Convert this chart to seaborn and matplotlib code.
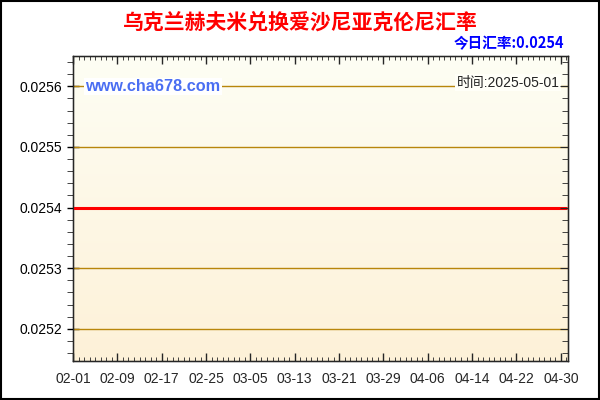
import numpy as np
import pandas as pd
import seaborn as sns
import matplotlib.pyplot as plt
import matplotlib.dates as mdates
from matplotlib.patches import Rectangle
from matplotlib.colors import LinearSegmentedColormap
from matplotlib.ticker import MultipleLocator

# 数据：2025-02-01 ~ 2025-05-01 每日汇率（图中为一条水平线）
dates = pd.date_range('2025-02-01', '2025-05-01', freq='D')
rate_values = [0.0254] * len(dates)
y_ticks = [0.0252, 0.0253, 0.0254, 0.0255, 0.0256]
title_text = '乌克兰赫夫米兑换爱沙尼亚克伦尼汇率'
today_text = '今日汇率:0.0254'
time_text = '时间:2025-05-01'
site_text = 'www.cha678.com'

sns.set_style('ticks')
plt.rcParams['font.family'] = ['Liberation Sans', 'Noto Sans CJK SC', 'DejaVu Sans']

df = pd.DataFrame({'date': dates, 'rate': rate_values})

fig = plt.figure(figsize=(6, 4), dpi=100)
ax = fig.add_axes([0.1217, 0.0975, 0.825, 0.7625])

x0 = mdates.date2num(pd.Timestamp('2025-02-01'))
x1 = x0 + 89.3
y0, y1 = 0.025147, 0.025650

# 背景渐变（上白下黄）
grad = np.linspace(0, 1, 256).reshape(-1, 1)
cmap = LinearSegmentedColormap.from_list('bg', ['#fdf1d8', '#fefef4'])
ax.imshow(grad, aspect='auto', cmap=cmap, extent=[x0, x1, y0, y1],
          origin='lower', zorder=0)

for v in y_ticks:
    ax.axhline(v, color='#b8860b', lw=1, zorder=1)

sns.lineplot(data=df, x='date', y='rate', ax=ax, color='#ff0000', lw=2.2, zorder=3)

ax.set_xlim(x0, x1)
ax.set_ylim(y0, y1)
ax.set_xlabel('')
ax.set_ylabel('')

ax.set_yticks(y_ticks)
ax.set_yticklabels([f'{v:.4f}' for v in y_ticks])
ax.yaxis.set_minor_locator(MultipleLocator(0.00002))
xt = pd.date_range('2025-02-01', '2025-04-30', freq='8D')
ax.set_xticks(mdates.date2num(xt))
ax.set_xticklabels([d.strftime('%m-%d') for d in xt])
ax.xaxis.set_minor_locator(MultipleLocator(1))

ax.tick_params(axis='y', which='major', direction='inout', length=8, labelsize=10,
               right=False, width=1, colors='black')
ax.tick_params(axis='y', which='minor', direction='out', length=4, right=False)
ax.tick_params(axis='x', which='major', direction='in', length=6, labelsize=10,
               top=True, width=1, pad=8)
ax.tick_params(axis='x', which='minor', direction='in', length=3, top=True)
for s in ax.spines.values():
    s.set_color('black')
    s.set_linewidth(1)

# 右侧刻度朝内
ax2 = ax.twinx()
ax2.set_ylim(y0, y1)
ax2.set_yticks(y_ticks)
ax2.yaxis.set_minor_locator(MultipleLocator(0.00002))
ax2.tick_params(axis='y', which='major', direction='in', length=6, labelright=False)
ax2.tick_params(axis='y', which='minor', direction='in', length=4)

ax.text(0.025, 0.90, site_text, transform=ax.transAxes, color='#4a6ef2',
        fontsize=11.7, fontweight='bold', va='center', ha='left',
        bbox=dict(facecolor='white', edgecolor='none', pad=1), zorder=4)
ax.text(0.983, 0.912, time_text, transform=ax.transAxes, color='#222222',
        fontsize=10, va='center', ha='right',
        bbox=dict(facecolor='#fffff8', edgecolor='none', pad=1), zorder=4)

fig.text(0.5, 0.945, title_text, color='#ff0000', fontsize=15, fontweight='bold',
         ha='center', va='center', family=['Noto Sans CJK SC', 'DejaVu Sans'])
fig.text(0.94, 0.893, today_text, color='#0000ff', fontsize=10.5, fontweight='bold',
         ha='right', va='center', family=['Noto Sans CJK SC', 'DejaVu Sans'])

fig.patches.append(Rectangle((0.001, 0.0015), 0.998, 0.997, transform=fig.transFigure,
                             fill=False, edgecolor='black', lw=1.5))

fig.savefig('out.png', dpi=100, facecolor='white')
